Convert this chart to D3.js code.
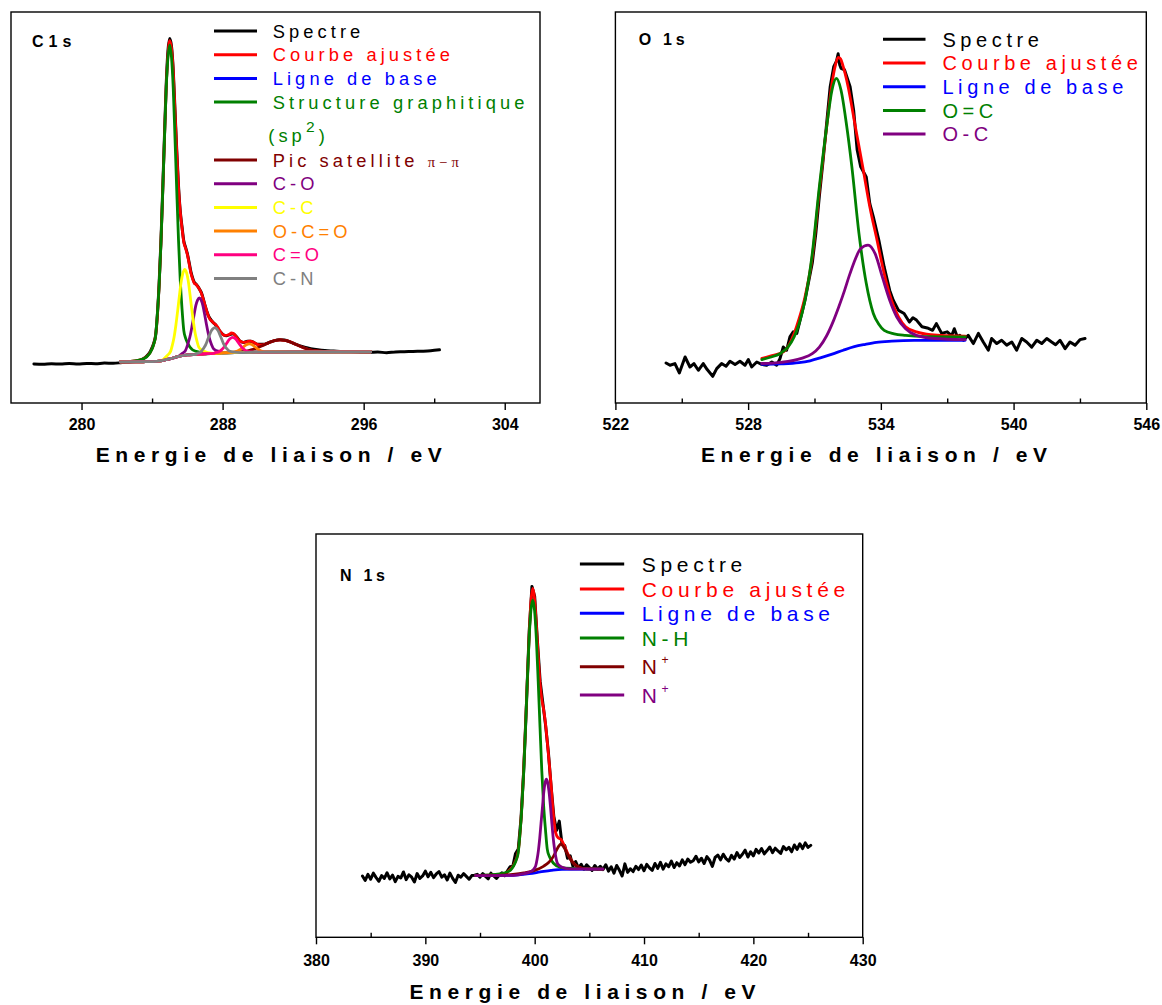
<!DOCTYPE html>
<html><head><meta charset="utf-8">
<script src="https://cdn.jsdelivr.net/npm/d3@7"></script>
<style>body{margin:0;background:#fff}svg text{font-family:"Liberation Sans",Arial,sans-serif}</style>
</head><body><script>
// ---------------- DATA ----------------
// Tick labels (eV)
const c1sTicks=[280,288,296,304], c1sMinor=[284,292,300];
const o1sTicks=[522,528,534,540,546], o1sMinor=[525,531,537,543];
const n1sTicks=[380,390,400,410,420,430], n1sMinor=[385,395,405,415,425];

// Legend labels
const c1sLabels=["Spectre","Courbe ajustée","Ligne de base","Structure graphitique\n(sp^{2})","Pic satellite ~{π−π}","C-O","C-C","O-C=O","C=O","C-N"];
const o1sLabels=["Spectre","Courbe ajustée","Ligne de base","O=C","O-C"];
const n1sLabels=["Spectre","Courbe ajustée","Ligne de base","N-H","N^{+}","N^{+}"];

// ---- C1s (eV, intensity %) ----
const c1sSpectrum=[[277.3,10.0],[277.8,9.9],[278.3,10.05],[278.8,9.95],[279.3,10.1],[279.8,10.0],[280.3,10.1],[280.8,10.05],[281.3,10.2],[281.8,10.15],[282.3,10.35],[282.8,10.5],[283.2,10.7],[283.5,11.3],[283.7,12.0],[283.9,13.2],[284.1,15.4],[284.2,17.3],[284.3,22.5],[284.4,30.5],[284.5,41.0],[284.6,54.0],[284.7,67.8],[284.8,81.2],[284.9,90.0],[285.0,93.2],[285.1,91.3],[285.2,85.2],[285.3,75.0],[285.4,64.6],[285.5,55.5],[285.6,49.0],[285.7,45.0],[285.8,41.4],[285.9,39.8],[286.0,38.2],[286.1,36.0],[286.2,33.6],[286.3,32.0],[286.4,30.8],[286.5,30.4],[286.6,29.8],[286.7,29.0],[286.8,28.2],[286.9,26.7],[287.0,25.0],[287.2,22.3],[287.4,20.9],[287.6,20.0],[287.8,18.6],[288.0,17.6],[288.2,17.2],[288.4,17.5],[288.6,17.7],[288.8,16.9],[289.0,15.8],[289.2,15.5],[289.4,15.8],[289.6,15.8],[289.8,15.4],[290.0,15.0],[290.3,15.0],[290.6,15.4],[290.9,15.9],[291.2,16.2],[291.5,16.1],[291.8,15.7],[292.1,15.1],[292.4,14.6],[292.7,14.2],[293.0,13.9],[293.4,13.6],[293.8,13.4],[294.3,13.3],[294.8,13.2],[295.3,13.15],[295.8,13.0],[296.3,12.95],[296.8,13.05],[297.3,12.85],[297.8,13.05],[298.3,13.1],[298.8,13.2],[299.3,13.25],[299.8,13.35],[300.3,13.6]];
const c1sFit=[[282.2,10.5],[283.2,10.9],[283.7,11.9],[284.0,13.9],[284.2,17.2],[284.4,30.2],[284.5,40.6],[284.6,53.6],[284.7,67.3],[284.8,80.7],[284.9,89.0],[285.0,92.7],[285.1,90.8],[285.2,84.9],[285.3,74.5],[285.4,64.2],[285.5,55.1],[285.6,48.9],[285.7,44.7],[285.8,41.1],[285.9,39.6],[286.0,38.0],[286.1,35.7],[286.2,33.3],[286.3,31.7],[286.4,30.6],[286.5,30.3],[286.6,29.7],[286.7,29.0],[286.8,28.0],[286.9,26.6],[287.0,25.0],[287.1,23.5],[287.2,22.2],[287.3,21.3],[287.4,20.9],[287.5,20.4],[287.6,20.1],[287.7,19.55],[287.8,18.8],[287.9,18.1],[288.0,17.6],[288.1,17.3],[288.2,17.3],[288.3,17.4],[288.4,17.6],[288.5,17.9],[288.6,17.8],[288.7,17.4],[288.8,16.8],[288.9,16.2],[289.0,15.8],[289.1,15.6],[289.2,15.5],[289.3,15.6],[289.4,15.7],[289.5,15.8],[289.6,15.8],[289.7,15.64],[289.8,15.43],[290.0,14.95],[290.2,14.85],[290.4,15.03],[290.6,15.36],[290.8,15.72],[291.0,16.01],[291.27,16.13],[291.5,16.03],[291.8,15.71],[292.0,15.3],[292.3,14.69],[292.6,14.1],[292.8,13.8],[293.3,13.31],[293.8,13.19],[294.5,13.13],[296.4,13.1]];
const c1sBaseline=[[282.2,10.5],[283.5,10.55],[284.0,10.6],[284.5,10.8],[285.0,11.3],[285.5,11.9],[286.0,12.3],[286.5,12.45],[287.0,12.6],[287.5,12.7],[288.0,12.8],[289.0,12.9],[290.0,13.0],[292.0,13.05],[296.4,13.1]];
const c1sSp2=[[283.2,10.9],[283.7,11.8],[284.0,13.8],[284.1,15.1],[284.2,17.1],[284.3,22.8],[284.4,30.1],[284.5,40.5],[284.6,53.5],[284.7,67.2],[284.8,80.2],[284.9,88.3],[285.0,91.6],[285.1,88.5],[285.2,80.6],[285.3,67.8],[285.4,54.3],[285.5,41.6],[285.6,31.3],[285.7,24.0],[285.8,18.5],[285.9,16.6],[286.0,15.5],[286.3,13.6],[286.8,12.9]];
const c1sSat=[[288.71,13.0],[289.22,13.17],[289.48,13.4],[289.73,13.71],[289.99,14.15],[290.25,14.65],[290.5,15.18],[290.76,15.69],[291.01,16.01],[291.27,16.13],[291.53,16.02],[291.78,15.71],[292.04,15.22],[292.29,14.69],[292.55,14.2],[292.81,13.8],[293.06,13.5],[293.32,13.31],[293.83,13.19],[294.5,13.13]];
const c1sCO=[[285.68,12.6],[285.88,13.3],[285.98,14.4],[286.08,15.8],[286.18,17.6],[286.28,20.0],[286.38,22.5],[286.48,24.9],[286.58,26.3],[286.68,26.9],[286.78,26.35],[286.88,24.95],[286.98,22.7],[287.08,20.2],[287.18,17.9],[287.28,16.15],[287.38,14.85],[287.48,13.9],[287.68,13.35],[287.98,13.0]];
const c1sCC=[[284.85,12.1],[285.05,13.2],[285.15,14.8],[285.25,16.9],[285.35,19.9],[285.45,23.5],[285.55,27.4],[285.65,31.0],[285.75,33.2],[285.85,34.2],[285.95,33.4],[286.05,31.3],[286.15,27.8],[286.25,24.0],[286.35,20.6],[286.45,17.7],[286.55,15.75],[286.65,14.3],[286.85,13.5],[287.15,12.9]];
const c1sOCO=[[288.5,12.96],[288.7,13.05],[288.8,13.2],[288.9,13.42],[289.0,13.7],[289.1,14.05],[289.2,14.42],[289.3,14.78],[289.4,15.0],[289.5,15.1],[289.6,15.02],[289.7,14.82],[289.8,14.48],[289.9,14.13],[290.0,13.8],[290.1,13.52],[290.2,13.3],[290.3,13.17],[290.5,13.09]];
const c1sCdO=[[287.57,12.87],[287.77,13.05],[287.87,13.35],[287.97,13.75],[288.07,14.25],[288.17,14.87],[288.27,15.54],[288.37,16.2],[288.47,16.6],[288.57,16.77],[288.67,16.63],[288.77,16.24],[288.87,15.6],[288.97,14.95],[289.07,14.35],[289.17,13.86],[289.27,13.5],[289.37,13.23],[289.57,13.1]];
const c1sCN=[[286.55,12.7],[286.75,13.0],[286.85,13.55],[286.95,14.2],[287.05,15.0],[287.15,16.15],[287.25,17.3],[287.35,18.4],[287.45,19.0],[287.55,19.3],[287.65,19.05],[287.75,18.45],[287.85,17.4],[287.95,16.3],[288.05,15.2],[288.15,14.4],[288.25,13.83],[288.35,13.35],[288.55,13.1]];

// ---- O1s ----
const o1sSpectrum=[[524.29,10.24],[524.47,9.65],[524.69,10.08],[524.89,7.68],[525.15,11.77],[525.37,9.21],[525.55,10.08],[525.75,8.37],[525.97,10.08],[526.15,8.55],[526.4,6.83],[526.58,8.8],[526.8,10.08],[527.0,9.39],[527.18,10.67],[527.41,9.83],[527.63,10.67],[527.86,9.65],[528.01,11.1],[528.16,9.21],[528.39,10.49],[528.61,9.9],[528.84,9.65],[529.07,10.5],[529.29,9.65],[529.44,11.36],[529.59,14.33],[529.74,13.49],[529.89,16.9],[530.04,18.2],[530.2,17.8],[530.35,21.2],[530.57,26.3],[530.9,35.8],[531.06,43.4],[531.22,52.9],[531.39,62.1],[531.55,71.5],[531.71,80.9],[531.87,86.0],[532.0,87.5],[532.07,89.3],[532.14,86.5],[532.2,85.6],[532.36,85.2],[532.61,80.9],[532.77,74.9],[532.93,64.7],[533.09,60.4],[533.34,57.8],[533.5,51.0],[533.66,47.6],[533.91,41.6],[534.15,34.8],[534.4,28.8],[534.56,26.3],[534.8,23.7],[535.05,22.9],[535.29,20.7],[535.45,21.8],[535.61,21.2],[535.86,19.5],[536.1,19.2],[536.34,18.6],[536.51,20.3],[536.75,17.8],[537.0,18.2],[537.2,17.2],[537.32,19.0],[537.45,17.0],[537.57,17.3],[537.73,16.05],[537.95,17.3],[538.18,15.2],[538.41,17.8],[538.63,15.6],[538.86,13.5],[539.01,16.5],[539.24,15.2],[539.46,16.05],[539.69,14.8],[539.92,15.6],[540.14,13.5],[540.37,16.5],[540.59,15.6],[540.82,14.3],[541.05,16.05],[541.27,15.2],[541.5,16.5],[541.72,15.6],[541.9,14.9],[542.1,16.05],[542.33,13.9],[542.55,15.6],[542.78,14.8],[543.0,16.2],[543.23,16.5]];
const o1sFit=[[528.62,11.4],[529.0,12.0],[529.6,13.1],[530.08,17.8],[530.3,21.5],[530.57,27.1],[530.9,37.4],[531.22,54.4],[531.55,70.6],[531.79,81.7],[531.95,86.5],[532.07,88.4],[532.18,88.0],[532.28,86.4],[532.52,80.9],[532.85,70.6],[533.18,60.4],[533.5,50.2],[533.83,41.6],[534.15,33.1],[534.48,26.3],[534.8,22.0],[535.12,19.5],[535.61,18.2],[536.26,17.5],[537.81,17.1]];
const o1sBaseline=[[528.62,9.9],[529.5,10.0],[530.3,10.3],[530.8,10.8],[531.3,11.6],[531.8,12.5],[532.3,13.5],[532.8,14.4],[533.3,15.0],[533.8,15.5],[534.5,15.8],[535.5,16.0],[537.81,16.05]];
const o1sOdC=[[528.62,11.1],[529.0,11.7],[529.44,12.6],[529.8,14.3],[530.08,16.9],[530.3,20.2],[530.57,26.3],[530.9,38.2],[531.22,55.3],[531.55,70.6],[531.79,80.0],[531.99,83.0],[532.2,80.0],[532.44,71.5],[532.69,60.4],[533.01,43.4],[533.34,30.6],[533.66,22.9],[533.9,20.2],[534.15,18.6],[534.6,17.7],[535.12,17.3],[536.0,17.0],[537.81,16.9]];
const o1sOC=[[528.62,10.1],[529.5,10.4],[530.41,11.4],[530.9,12.6],[531.22,14.3],[531.55,17.2],[531.87,21.2],[532.1,24.6],[532.36,28.8],[532.57,32.5],[532.77,35.7],[533.09,39.5],[533.42,40.4],[533.74,38.2],[534.07,32.2],[534.4,26.3],[534.72,22.0],[535.12,19.0],[535.61,17.3],[536.43,16.5],[537.81,16.2]];

// ---- N1s ----  spectrum sampled every 0.25 eV from 384.25 eV
const n1sSpecStart=384.25, n1sSpecStep=0.25;
const n1sSpectrum=[15.2,14.1,15.6,14.4,15.9,14.8,13.9,15.3,14.6,16.0,
14.5,15.4,13.8,15.1,14.7,16.2,14.3,15.5,14.9,13.7,
15.8,14.6,15.2,16.4,15.0,16.1,14.8,15.7,16.3,14.9,
15.5,14.2,15.9,14.6,13.6,15.4,14.9,15.8,15.1,14.4,
15.3,15.4,
15.6,14.9,15.8,15.1,14.5,15.9,15.2,14.6,15.4,16.0,
15.3,16.4,17.5,17.6,20.8,21.9,29.5,41.5,58.0,76.0,
87.0,84.5,73.5,63.5,58.0,52.5,46.0,37.5,30.0,26.5,
28.8,23.0,22.8,19.6,20.2,17.6,18.8,17.2,18.1,16.9,
18.0,17.3,16.6,17.8,16.9,17.6,16.8,
18.0,16.4,17.5,15.9,17.8,16.6,15.2,18.2,16.1,17.0,
16.3,17.6,16.8,17.9,16.5,18.1,17.2,16.6,18.3,17.1,
18.6,16.9,18.2,17.5,18.9,17.3,18.5,17.7,19.2,18.0,
19.4,18.6,19.0,20.1,18.7,19.6,18.3,20.0,19.1,17.6,
19.8,20.4,19.2,20.6,19.5,18.9,20.3,19.4,21.0,19.8,
20.6,21.6,19.9,21.2,20.2,21.8,20.9,22.0,20.7,21.5,
22.4,21.0,22.1,21.4,20.8,22.5,21.7,22.3,21.2,22.9,
21.8,23.2,22.0,23.4,22.3,22.8];
const n1sFit=[[394.6,15.3],[397.0,15.6],[397.66,16.55],[398.16,18.35],[398.49,21.2],[398.82,32.3],[399.16,52.2],[399.49,74.8],[399.65,83.0],[399.82,86.5],[399.99,84.0],[400.15,77.5],[400.32,70.0],[400.49,63.0],[400.65,59.0],[400.82,56.5],[400.99,53.0],[401.15,48.5],[401.32,43.5],[401.48,38.5],[401.68,31.5],[401.92,25.9],[402.17,24.6],[402.39,24.3],[402.6,23.35],[402.8,22.15],[403.0,20.9],[403.3,19.37],[403.6,18.28],[404.0,17.43],[404.5,17.04],[406.24,16.9]];
const n1sBaseline=[[394.6,15.3],[397.5,15.35],[398.5,15.5],[399.5,15.8],[400.5,16.2],[401.5,16.6],[402.5,16.85],[406.24,16.9]];
const n1sNH=[[396.82,15.7],[397.66,16.4],[398.16,18.15],[398.32,19.2],[398.49,20.9],[398.66,25.75],[398.82,31.9],[398.99,40.75],[399.16,51.6],[399.32,63.25],[399.49,74.05],[399.65,80.9],[399.82,83.6],[399.99,81.0],[400.15,74.25],[400.32,63.55],[400.49,52.0],[400.65,41.3],[400.82,32.6],[400.99,26.6],[401.15,21.85],[401.32,20.2],[401.48,19.3],[401.98,17.75],[402.82,17.15]];
const n1sNplusA=[[394.6,15.3],[397.0,15.4],[398.0,15.6],[399.0,15.95],[400.0,16.6],[400.8,17.6],[401.3,18.6],[401.7,20.0],[402.0,21.6],[402.2,22.6],[402.39,23.1],[402.6,22.6],[402.8,21.7],[403.0,20.6],[403.3,19.2],[403.6,18.2],[404.0,17.4],[404.5,17.05],[405.2,16.95],[406.24,16.9]];
const n1sNplusB=[[398.87,15.7],[399.48,16.1],[399.85,16.7],[399.97,17.1],[400.09,17.7],[400.22,19.35],[400.34,21.5],[400.46,24.5],[400.58,28.25],[400.71,32.2],[400.83,35.9],[400.95,38.25],[401.07,39.2],[401.19,38.35],[401.31,36.1],[401.44,32.55],[401.56,28.7],[401.68,25.05],[401.80,22.2],[401.92,20.1],[402.05,18.55],[402.17,18.0],[402.29,17.7],[402.66,17.2],[403.27,16.96]];

// ---------------- STYLE ----------------
const c1sColors=['#000000','#ff0000','#0000ff','#008000','#800000','#800080','#ffff00','#ff8000','#ff0080','#808080'];
const o1sColors=['#000000','#ff0000','#0000ff','#008000','#800080'];
const n1sColors=['#000000','#ff0000','#0000ff','#008000','#800000','#800080'];

// ---------------- BUILD ----------------
function withBase(peak, base){
  const a=peak[0][0], b=peak[peak.length-1][0];
  return base.filter(p=>p[0]<a).concat(peak, base.filter(p=>p[0]>b));
}
const n1sSpecPts=n1sSpectrum.map((v,i)=>[n1sSpecStart+i*n1sSpecStep, v]);

const svg=d3.select('body').append('svg').attr('width',1162).attr('height',1005);
const FONT='"Liberation Sans", Arial, sans-serif';

function renderLabel(t, lab, fs, x0, opt){
  const lines=lab.split('\n');
  let shift=0;
  lines.forEach((ln,li)=>{
    const parts=ln.split(/(\^\{[^}]*\}|~\{[^}]*\})/).filter(s=>s.length);
    parts.forEach((pt,pi)=>{
      const ts=t.append('tspan');
      let dy=0, txt=pt, size=null, target=0, fam=null;
      if(pi===0&&li>0){ ts.attr('x',x0-4.5); dy+=opt.lineGap; }
      if(pt.startsWith('^{')){ txt=pt.slice(2,-1); size=fs*opt.supScale; target=-opt.supRaise; }
      else if(pt.startsWith('~{')){ txt=pt.slice(2,-1); size=fs*0.8; fam='"Liberation Serif", "Times New Roman", serif'; }
      dy+=target-shift; shift=target;
      if(dy) ts.attr('dy',dy);
      if(size) ts.attr('font-size',size);
      if(fam) ts.attr('font-family',fam);
      ts.text(txt);
    });
  });
}

function drawPanel(p){
  const x=d3.scaleLinear().domain(p.domain).range([p.left,p.right]);
  const y=d3.scaleLinear().domain([0,100]).range([p.bottom,p.top]);
  const g=svg.append('g');
  p.series.forEach((s,i)=>{
    const gen=d3.line().x(d=>x(d[0])).y(d=>y(d[1])).curve(s.linear?d3.curveLinear:d3.curveMonotoneX);
    g.append('path').datum(s.pts).attr('d',gen).attr('fill','none')
      .attr('stroke',p.colors[i]).attr('stroke-width',i===0?3:2.8)
      .attr('stroke-linejoin','round').attr('stroke-linecap','round');
  });
  g.append('rect').attr('x',p.left).attr('y',p.top).attr('width',p.right-p.left).attr('height',p.bottom-p.top)
    .attr('fill','none').attr('stroke','#000').attr('stroke-width',1.4);
  const ax=g.append('g').attr('transform',`translate(0,${p.bottom})`)
    .call(d3.axisBottom(x).tickValues(p.major).tickSize(7).tickPadding(p.tickPad).tickFormat(d3.format('d')));
  ax.select('.domain').remove();
  ax.attr('font-family',FONT).attr('font-size',16).attr('font-weight','bold');
  ax.selectAll('line').attr('stroke-width',1.4);
  const mi=g.append('g').attr('transform',`translate(0,${p.bottom})`)
    .call(d3.axisBottom(x).tickValues(p.minor).tickSize(-4.5).tickFormat(''));
  mi.select('.domain').remove();
  mi.selectAll('line').attr('stroke-width',1.4);
  // axis title
  g.append('text').attr('x',(p.left+p.right)/2-4).attr('y',p.titleY).attr('text-anchor','middle')
    .attr('font-size',21).attr('font-weight','bold').attr('letter-spacing',5.6).text('Energie de liaison / eV');
  // panel label
  g.append('text').attr('x',p.tagX).attr('y',p.tagY).attr('font-size',16).attr('font-weight','bold')
    .attr('letter-spacing',p.tagLs).text(p.tag);
  // legend
  p.labels.forEach((lab,i)=>{
    const yy=p.rows[i];
    g.append('line').attr('x1',p.lx1).attr('x2',p.lx2).attr('y1',yy).attr('y2',yy)
      .attr('stroke',p.colors[i]).attr('stroke-width',3);
    const t=g.append('text').attr('x',p.tx).attr('y',yy+p.fs*0.36).attr('font-size',p.fs)
      .attr('letter-spacing',p.ls).attr('fill',p.colors[i]);
    renderLabel(t,lab,p.fs,p.tx,p.sup);
  });
}

drawPanel({
  domain:[276,306], left:11, right:540, top:12, bottom:403, tickPad:8.5, titleY:462,
  major:c1sTicks, minor:c1sMinor, colors:c1sColors, labels:c1sLabels,
  series:[{pts:c1sSpectrum},{pts:c1sFit},{pts:c1sBaseline},{pts:withBase(c1sSp2,c1sBaseline)},
    {pts:withBase(c1sSat,c1sBaseline)},{pts:withBase(c1sCO,c1sBaseline)},{pts:withBase(c1sCC,c1sBaseline)},
    {pts:withBase(c1sOCO,c1sBaseline)},{pts:withBase(c1sCdO,c1sBaseline)},{pts:withBase(c1sCN,c1sBaseline)}],
  tag:'C1s', tagX:32, tagY:46.7, tagLs:5,
  lx1:214, lx2:257, tx:272.7, fs:18.3, ls:4.1,
  rows:[31,54.7,78.4,102.1,160,183.7,207.4,231.1,254.8,278.5],
  sup:{lineGap:33, supScale:0.85, supRaise:10}
});
drawPanel({
  domain:[522,546], left:615.4, right:1146.3, top:12, bottom:403, tickPad:8.5, titleY:462,
  major:o1sTicks, minor:o1sMinor, colors:o1sColors, labels:o1sLabels,
  series:[{pts:o1sSpectrum,linear:true},{pts:o1sFit},{pts:o1sBaseline},{pts:withBase(o1sOdC,o1sBaseline)},{pts:withBase(o1sOC,o1sBaseline)}],
  tag:'O  1s', tagX:638.8, tagY:45, tagLs:3.7,
  lx1:883, lx2:925.5, tx:942.4, fs:20, ls:4.6,
  rows:[39.3,63,86.7,110.4,134.1],
  sup:{lineGap:30, supScale:0.6, supRaise:10}
});
drawPanel({
  domain:[380,430], left:316, right:862.7, top:534, bottom:937.3, tickPad:10.5, titleY:999,
  major:n1sTicks, minor:n1sMinor, colors:n1sColors, labels:n1sLabels,
  series:[{pts:n1sSpecPts,linear:true},{pts:n1sFit},{pts:n1sBaseline},{pts:withBase(n1sNH,n1sBaseline)},
    {pts:withBase(n1sNplusA,n1sBaseline)},{pts:withBase(n1sNplusB,n1sBaseline)}],
  tag:'N  1s', tagX:340, tagY:581, tagLs:3.7,
  lx1:579.9, lx2:624.2, tx:641.7, fs:21, ls:4.7,
  rows:[564,589,613.3,638,666.7,695],
  sup:{lineGap:30, supScale:0.58, supRaise:10}
});
</script></body></html>
